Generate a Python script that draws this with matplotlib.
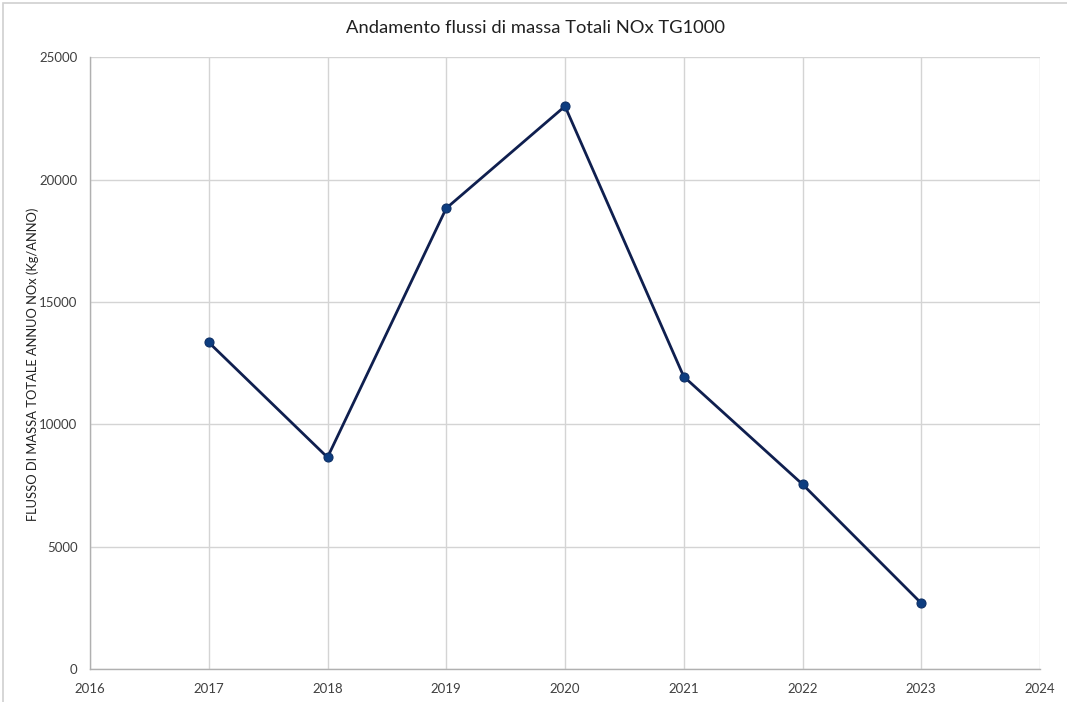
import matplotlib
matplotlib.use("Agg")
import matplotlib.pyplot as plt
from matplotlib.patches import Rectangle

# Annual total NOx mass flow, TG1000
years = [2017, 2018, 2019, 2020, 2021, 2022, 2023]
nox_kg = [13350, 8650, 18830, 23000, 11950, 7550, 2690]

x_ticks = [2016, 2017, 2018, 2019, 2020, 2021, 2022, 2023, 2024]
y_ticks = [0, 5000, 10000, 15000, 20000, 25000]

plt.rcParams['font.family'] = ['Lato', 'DejaVu Sans']

fig = plt.figure(figsize=(10.67, 7.02), dpi=100)
ax = fig.add_axes([90 / 1067, 33 / 702, 950 / 1067, 611.7 / 702])

# light frame around the chart area
fig.patches.append(Rectangle((3 / 1067, -0.01), 1.1, 1.0 - 3 / 702 + 0.01,
                             transform=fig.transFigure, fill=False,
                             edgecolor='#d0d0d0', linewidth=1.2))

ax.plot(years, nox_kg, color='#0f1f4f', linewidth=2.0, marker='o',
        markersize=6.5, markerfacecolor='#0d3d80', markeredgecolor='#0d2f66',
        markeredgewidth=0.8, zorder=3)

ax.set_xlim(2016, 2024)
ax.set_ylim(0, 25000)
ax.set_xticks(x_ticks)
ax.set_yticks(y_ticks)
ax.grid(True, color='#d4d4d4', linewidth=1.0)
ax.set_axisbelow(True)
ax.tick_params(length=0, labelsize=9.5, colors='#404040')
ax.tick_params(axis='x', pad=10)
ax.tick_params(axis='y', pad=9)

for side in ['top', 'right']:
    ax.spines[side].set_visible(False)
for side in ['left', 'bottom']:
    ax.spines[side].set_color('#b0b0b0')
    ax.spines[side].set_linewidth(1.0)

fig.text(33 / 1067, 1 - 364 / 702, 'FLUSSO DI MASSA TOTALE ANNUO NOx (Kg/ANNO)',
         rotation=90, ha='center', va='center', fontsize=9.3, color='#202020')
fig.text(536 / 1067, 1 - 28 / 702, 'Andamento flussi di massa Totali NOx TG1000',
         ha='center', va='center', fontsize=13.2, color='#202020')

fig.savefig('out.png', dpi=100, facecolor='white')
